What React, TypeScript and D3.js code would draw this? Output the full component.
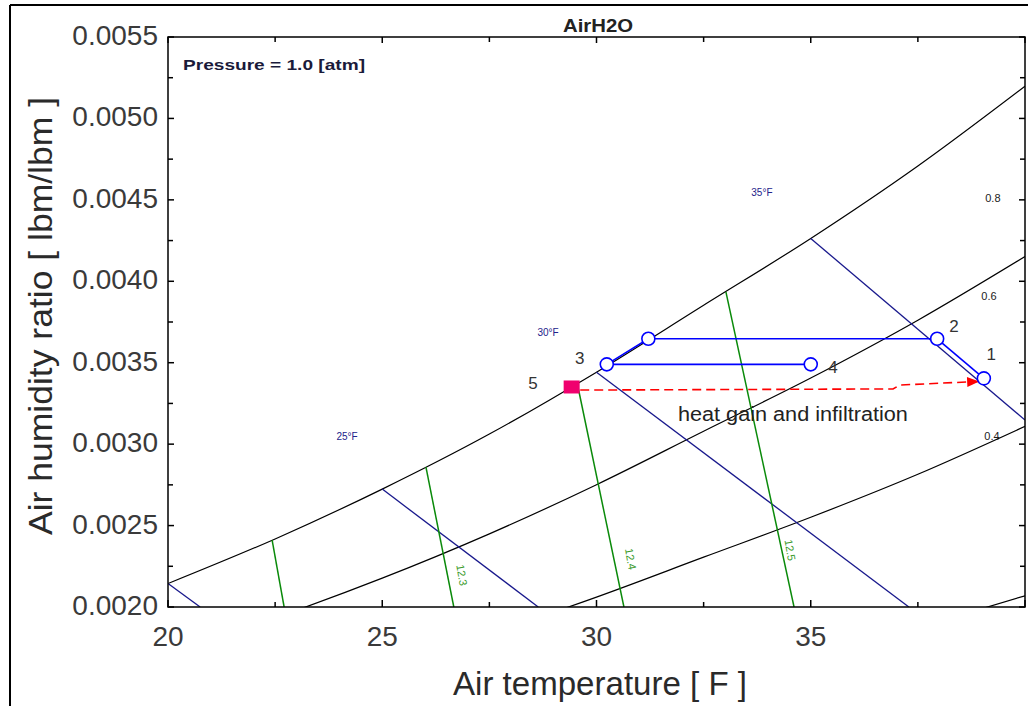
import React from "react";
import * as d3 from "d3";

// ---------- data ----------
const xMajorTicks = [20, 25, 30, 35, 40];
const xTickLabels = ["20", "25", "30", "35", ""];
const xMinorTicks = [22.5, 27.5, 32.5, 37.5];
const yMajorTicks = [0.002, 0.0025, 0.003, 0.0035, 0.004, 0.0045, 0.005, 0.0055];
const yTickLabels = ["0.0020", "0.0025", "0.0030", "0.0035", "0.0040", "0.0045", "0.0050", "0.0055"];
const yMinorTicks = [0.00225, 0.00275, 0.00325, 0.00375, 0.00425, 0.00475, 0.00525];

// relative humidity curves (temperature F, humidity ratio)
const rhTemps = [20, 22.5, 25, 27.5, 30, 32.5, 35, 37.5, 40];
const rh100 = [0.002144, 0.002418, 0.002724, 0.003062, 0.003442, 0.003853, 0.004263, 0.004708, 0.005198];
const rh80 = [0.001714, 0.001933, 0.002177, 0.002449, 0.002751, 0.003079, 0.003406, 0.003761, 0.004152];
const rh60 = [0.001284, 0.001449, 0.001632, 0.001835, 0.002061, 0.002306, 0.002551, 0.002815, 0.003109];
const rh40 = [0.000855, 0.000965, 0.001087, 0.001221, 0.001373, 0.001536, 0.001698, 0.001875, 0.002069];
const rhLabels = ["0.8", "0.6", "0.4"];
const rhLabelT = [39.25, 39.16, 39.23];
const rhLabelW = [0.004511, 0.00391, 0.00305];

// wet-bulb lines: [T start, w start, T end, w end]
const wetBulbLines = [
  [20.0, 0.002144, 20.75, 0.002],
  [25.0, 0.002724, 28.64, 0.002],
  [30.0, 0.003442, 37.29, 0.002],
  [35.0, 0.004263, 40.0, 0.003148],
];
const wetBulbLabels = ["25°F", "30°F", "35°F"];
const wetBulbLabelT = [24.18, 28.87, 33.86];
const wetBulbLabelW = [0.00305, 0.003689, 0.004548];

// specific volume lines: [T start, w start, T end, w end]
const volumeLines = [
  [22.43, 0.002411, 22.71, 0.002],
  [26.02, 0.002859, 26.67, 0.002],
  [29.55, 0.003374, 30.64, 0.002],
  [33.02, 0.003935, 34.61, 0.002],
];
const volumeLabels = ["12.3", "12.4", "12.5"];
const volumeLabelT = [26.86, 30.8, 34.52];
const volumeLabelW = [0.002196, 0.002295, 0.00235];

// process states
const stateT = [39.04, 37.95, 30.24, 35.0, 31.21];
const stateW = [0.003404, 0.003647, 0.00349, 0.00349, 0.003647];
const stateNames = ["1", "2", "3", "4", ""];
const stateLabelT = [39.21, 38.34, 29.61, 35.52];
const stateLabelW = [0.003553, 0.003725, 0.003529, 0.003474];
// process segments as index pairs into states
const processSegments = [
  [2, 4],
  [4, 1],
  [1, 0],
  [2, 3],
];
const state5 = [29.42, 0.003351];
const state5Label = [28.52, 0.003375];
const heatGainPathT = [29.62, 36.92, 37.08, 38.93];
const heatGainPathW = [0.003332, 0.003339, 0.003363, 0.003385];
const heatGainLabel = [31.9, 0.003142];

// ---------- layout ----------
const W = 1028;
const H = 706;
const L = 168, R = 1025, T = 37, B = 607;

const x = d3.scaleLinear().domain([20, 40]).range([L, R]);
const y = d3.scaleLinear().domain([0.002, 0.0055]).range([B, T]);

const curveLine = d3
  .line<number[]>()
  .x((d) => x(d[0]))
  .y((d) => y(d[1]))
  .curve(d3.curveMonotoneX);
const straight = d3
  .line<number[]>()
  .x((d) => x(d[0]))
  .y((d) => y(d[1]));

const FONT = "'Liberation Sans', Arial, sans-serif";

export default function App() {
  const rhSeries = [rh100, rh80, rh60, rh40].map((arr) => rhTemps.map((t, i) => [t, arr[i]]));
  const redPts = heatGainPathT.map((t, i) => [t, heatGainPathW[i]]);
  const tip = redPts[redPts.length - 1];
  const prev = redPts[redPts.length - 2];
  const tx = x(tip[0]), ty = y(tip[1]);
  const ang = Math.atan2(ty - y(prev[1]), tx - x(prev[0]));
  const aLen = 12, aHalf = 5;
  const bx = tx - aLen * Math.cos(ang), by = ty - aLen * Math.sin(ang);
  const arrow = `M${tx},${ty} L${bx - aHalf * Math.sin(ang)},${by + aHalf * Math.cos(ang)} L${bx + aHalf * Math.sin(ang)},${by - aHalf * Math.cos(ang)} Z`;

  return (
    <svg
      width={W}
      height={H}
      style={{ position: "fixed", left: 0, top: 0, background: "#fff" }}
      fontFamily={FONT}
    >
      <defs>
        <clipPath id="plotClip">
          <rect x={L} y={T} width={R - L} height={B - T} />
        </clipPath>
      </defs>
      <rect x={0} y={0} width={W} height={H} fill="#fff" />
      {/* outer frame lines */}
      <line x1={10} y1={5} x2={W} y2={5} stroke="#000" strokeWidth={2} />
      <line x1={10} y1={5} x2={10} y2={H} stroke="#000" strokeWidth={2} />

      <g clipPath="url(#plotClip)">
        {rhSeries.map((s, i) => (
          <path key={"rh" + i} d={curveLine(s) || ""} fill="none" stroke="#000" strokeWidth={1.2} />
        ))}
        {wetBulbLines.map((l, i) => (
          <path
            key={"wb" + i}
            d={straight([[l[0], l[1]], [l[2], l[3]]]) || ""}
            fill="none"
            stroke="#18188c"
            strokeWidth={1.3}
          />
        ))}
        {volumeLines.map((l, i) => (
          <path
            key={"v" + i}
            d={straight([[l[0], l[1]], [l[2], l[3]]]) || ""}
            fill="none"
            stroke="#0a8a0a"
            strokeWidth={1.5}
          />
        ))}
        {/* heat gain dashed path */}
        <path d={straight(redPts) || ""} fill="none" stroke="#ff0000" strokeWidth={1.6} strokeDasharray="9,5" />
        <path d={arrow} fill="#ff0000" />
        {/* process lines */}
        {processSegments.map((sg, i) => (
          <path
            key={"p" + i}
            d={straight([[stateT[sg[0]], stateW[sg[0]]], [stateT[sg[1]], stateW[sg[1]]]]) || ""}
            fill="none"
            stroke="#0000ff"
            strokeWidth={1.6}
          />
        ))}
        {stateT.map((t, i) => (
          <circle key={"c" + i} cx={x(t)} cy={y(stateW[i])} r={6.5} fill="#fff" stroke="#0000ff" strokeWidth={1.6} />
        ))}
        <rect x={x(state5[0]) - 8} y={y(state5[1]) - 6.5} width={16} height={13} fill="#f0006e" />
      </g>

      {/* small line labels */}
      {rhLabels.map((s, i) => (
        <text key={"rl" + i} x={x(rhLabelT[i])} y={y(rhLabelW[i]) + 4} fontSize={11} fill="#222" textAnchor="middle">
          {s}
        </text>
      ))}
      {wetBulbLabels.map((s, i) => (
        <text key={"wl" + i} x={x(wetBulbLabelT[i])} y={y(wetBulbLabelW[i]) + 4} fontSize={10} fill="#22228a" textAnchor="middle">
          {s}
        </text>
      ))}
      {volumeLabels.map((s, i) => (
        <text
          key={"vl" + i}
          transform={`translate(${x(volumeLabelT[i])},${y(volumeLabelW[i])}) rotate(80)`}
          fontSize={11}
          fill="#3a9a2a"
          textAnchor="middle"
          dy={4}
        >
          {s}
        </text>
      ))}
      {stateNames.slice(0, 4).map((s, i) => (
        <text key={"sl" + i} x={x(stateLabelT[i])} y={y(stateLabelW[i]) + 6} fontSize={17} fill="#333" textAnchor="middle">
          {s}
        </text>
      ))}
      <text x={x(state5Label[0])} y={y(state5Label[1]) + 6} fontSize={17} fill="#333" textAnchor="middle">
        5
      </text>
      <text x={x(heatGainLabel[0])} y={y(heatGainLabel[1])} fontSize={20} fill="#222" textLength={230} lengthAdjust="spacingAndGlyphs">
        heat gain and infiltration
      </text>

      {/* frame */}
      <rect x={L} y={T} width={R - L} height={B - T} fill="none" stroke="#000" strokeWidth={1.5} />
      {/* ticks */}
      {xMajorTicks.map((t, i) => (
        <g key={"xt" + i}>
          <line x1={x(t)} x2={x(t)} y1={B} y2={B - 7} stroke="#000" strokeWidth={1.5} />
          <line x1={x(t)} x2={x(t)} y1={T} y2={T + 6} stroke="#000" strokeWidth={1.5} />
          <text x={x(t)} y={646} fontSize={28} fill="#3a3a3a" textAnchor="middle">
            {xTickLabels[i]}
          </text>
        </g>
      ))}
      {xMinorTicks.map((t, i) => (
        <g key={"xm" + i}>
          <line x1={x(t)} x2={x(t)} y1={B} y2={B - 5} stroke="#000" strokeWidth={1.5} />
          <line x1={x(t)} x2={x(t)} y1={T} y2={T + 5} stroke="#000" strokeWidth={1.5} />
        </g>
      ))}
      {yMajorTicks.map((t, i) => (
        <g key={"yt" + i}>
          <line x1={L} x2={L + 6} y1={y(t)} y2={y(t)} stroke="#000" strokeWidth={1.5} />
          <line x1={R} x2={R - 6} y1={y(t)} y2={y(t)} stroke="#000" strokeWidth={1.5} />
          <text x={158} y={y(t) + 8} fontSize={28} fill="#3a3a3a" textAnchor="end">
            {yTickLabels[i]}
          </text>
        </g>
      ))}
      {yMinorTicks.map((t, i) => (
        <g key={"ym" + i}>
          <line x1={L} x2={L + 5} y1={y(t)} y2={y(t)} stroke="#000" strokeWidth={1.5} />
          <line x1={R} x2={R - 5} y1={y(t)} y2={y(t)} stroke="#000" strokeWidth={1.5} />
        </g>
      ))}

      {/* titles */}
      <text x={598} y={32} fontSize={18} fontWeight="bold" fill="#222" textAnchor="middle" textLength={70} lengthAdjust="spacingAndGlyphs">
        AirH2O
      </text>
      <text x={183} y={70} fontSize={15} fontWeight="bold" fill="#1a1a3a" textLength={182} lengthAdjust="spacingAndGlyphs">
        Pressure = 1.0 [atm]
      </text>
      <text x={600} y={695} fontSize={33} fill="#2a2a2a" textAnchor="middle" textLength={294} lengthAdjust="spacingAndGlyphs">
        Air temperature [ F ]
      </text>
      <text
        transform="translate(52,316) rotate(-90)"
        fontSize={33}
        fill="#2a2a2a"
        textAnchor="middle"
        textLength={438}
        lengthAdjust="spacingAndGlyphs"
      >
        Air humidity ratio [ lbm/lbm ]
      </text>
    </svg>
  );
}
